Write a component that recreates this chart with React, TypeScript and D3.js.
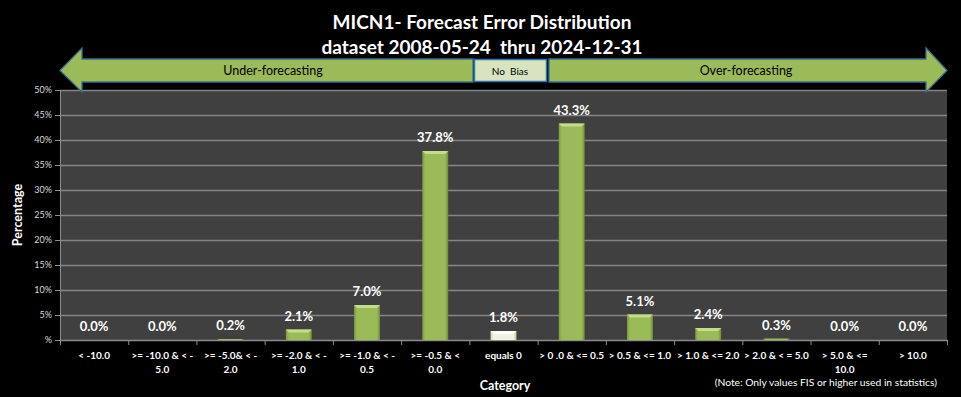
import {useEffect, useRef} from 'react';
import * as d3 from 'd3';

const categories = [
  '< -10.0',
  '>= -10.0 & < -|5.0',
  '>= -5.0& < -|2.0',
  '>= -2.0 & < -|1.0',
  '>= -1.0 & < -|0.5',
  '>= -0.5 & <|0.0',
  'equals 0',
  '> 0 .0 & <= 0.5',
  '> 0.5 & <= 1.0',
  '> 1.0 & <= 2.0',
  '> 2.0 & < = 5.0',
  '> 5.0 & <=|10.0',
  '> 10.0',
];
const values = [0.0, 0.0, 0.2, 2.1, 7.0, 37.8, 1.8, 43.3, 5.1, 2.4, 0.3, 0.0, 0.0];
const yTicks = [0, 5, 10, 15, 20, 25, 30, 35, 40, 45, 50];
const titleLines = ['MICN1- Forecast Error Distribution', 'dataset 2008-05-24  thru 2024-12-31'];

const W = 961;
const H = 397;
const FONT = 'Lato, "Open Sans", sans-serif';

const App = () => {
  const svgRef = useRef<SVGSVGElement>(null);

  useEffect(() => {
    const svg = d3.select(svgRef.current);
    svg.selectAll('*').remove();

    const margin = {top: 90, right: 14, bottom: 57, left: 60};
    const innerW = W - margin.left - margin.right;
    const innerH = H - margin.top - margin.bottom;

    const x = d3.scaleBand().domain(categories).range([0, innerW]).paddingInner(0.62).paddingOuter(0.31);
    const band = d3.scaleBand().domain(categories).range([0, innerW]);
    const y = d3.scaleLinear().domain([0, 50]).range([innerH, 0]);

    svg.append('rect').attr('width', W).attr('height', H).attr('fill', '#000');

    const defs = svg.append('defs');
    const g1 = defs.append('linearGradient').attr('id', 'barG').attr('x1', 0).attr('x2', 1);
    g1.append('stop').attr('offset', '0%').attr('stop-color', '#7e9a45');
    g1.append('stop').attr('offset', '12%').attr('stop-color', '#9bbb59');
    g1.append('stop').attr('offset', '88%').attr('stop-color', '#9bbb59');
    g1.append('stop').attr('offset', '100%').attr('stop-color', '#6f8a3b');
    const g2 = defs.append('linearGradient').attr('id', 'barW').attr('x1', 0).attr('x2', 1);
    g2.append('stop').attr('offset', '0%').attr('stop-color', '#c9d6b0');
    g2.append('stop').attr('offset', '12%').attr('stop-color', '#eef3e4');
    g2.append('stop').attr('offset', '88%').attr('stop-color', '#eef3e4');
    g2.append('stop').attr('offset', '100%').attr('stop-color', '#bac8a0');

    // Title
    svg.append('g')
      .selectAll('text')
      .data(titleLines)
      .join('text')
      .attr('x', 482)
      .attr('y', (d, i) => 29 + i * 25)
      .attr('text-anchor', 'middle')
      .attr('fill', '#fff')
      .style('white-space', 'pre')
      .style('font-family', FONT)
      .style('font-weight', 'bold')
      .style('font-size', '19px')
      .text(d => d);

    const plot = svg.append('g').attr('transform', `translate(${margin.left},${margin.top})`);

    plot.append('rect').attr('width', innerW).attr('height', innerH).attr('fill', '#404040');

    // Grid
    plot.append('g')
      .selectAll('line')
      .data(yTicks)
      .join('line')
      .attr('x1', 0)
      .attr('x2', innerW)
      .attr('y1', d => y(d) + 0.5)
      .attr('y2', d => y(d) + 0.5)
      .attr('stroke', '#858585')
      .attr('stroke-width', 1.3);

    // Y axis
    const yAxis = plot.append('g')
      .call(d3.axisLeft(y).tickValues(yTicks).tickSize(5).tickFormat(d => (d === 0 ? '%' : `${d}%`)));
    yAxis.select('.domain').attr('stroke', '#8c8c8c');
    yAxis.selectAll('.tick line').attr('stroke', '#8c8c8c');
    yAxis.selectAll('text').attr('fill', '#d9d9d9').style('font-family', FONT).style('font-size', '9px');

    // X axis
    const xAxis = plot.append('g').attr('transform', `translate(0,${innerH})`);
    xAxis.append('line').attr('x1', 0).attr('x2', innerW).attr('y1', 0.5).attr('y2', 0.5).attr('stroke', '#8c8c8c');
    xAxis.selectAll('.tk')
      .data(categories.concat(['end']))
      .join('line')
      .attr('class', 'tk')
      .attr('x1', (d, i) => (i < categories.length ? band(d)! : innerW) + 0.5)
      .attr('x2', (d, i) => (i < categories.length ? band(d)! : innerW) + 0.5)
      .attr('y1', 0)
      .attr('y2', 5)
      .attr('stroke', '#8c8c8c');
    xAxis.selectAll('.lbl')
      .data(categories)
      .join('text')
      .attr('class', 'lbl')
      .attr('x', d => band(d)! + band.bandwidth() / 2)
      .attr('y', 19)
      .attr('text-anchor', 'middle')
      .attr('fill', '#fff')
      .style('font-family', FONT)
      .style('font-weight', 'bold')
      .style('font-size', '10px')
      .each(function (d) {
        const parts = d.split('|');
        d3.select(this)
          .selectAll('tspan')
          .data(parts)
          .join('tspan')
          .attr('x', band(d)! + band.bandwidth() / 2)
          .attr('dy', (p, i) => (i === 0 ? 0 : 14))
          .text(p => p);
      });

    // Bars
    const bars = plot.append('g');
    bars.selectAll('rect')
      .data(values)
      .join('rect')
      .attr('x', (d, i) => x(categories[i])!)
      .attr('y', d => y(d))
      .attr('width', x.bandwidth())
      .attr('height', d => innerH - y(d))
      .attr('fill', (d, i) => (categories[i] === 'equals 0' ? 'url(#barW)' : 'url(#barG)'));
    // bevel highlight on top
    const tops = values.map((v, i) => ({v, c: categories[i]})).filter(d => d.v > 0.5);
    bars.selectAll('path')
      .data(tops)
      .join('path')
      .attr('d', d => {
        const x0 = x(d.c)!;
        const x1 = x0 + x.bandwidth();
        const t = y(d.v);
        return `M${x0},${t}L${x1},${t}L${x1 - 3},${t + 3}L${x0 + 3},${t + 3}Z`;
      })
      .attr('fill', d => (d.c === 'equals 0' ? '#ffffff' : '#c4dc8c'));

    // Value labels
    plot.append('g')
      .selectAll('text')
      .data(values)
      .join('text')
      .attr('x', (d, i) => band(categories[i])! + band.bandwidth() / 2)
      .attr('y', d => y(d) - 9)
      .attr('text-anchor', 'middle')
      .attr('fill', '#fff')
      .style('font-family', FONT)
      .style('font-weight', 'bold')
      .style('font-size', '13px')
      .text(d => `${d.toFixed(1)}%`);

    // Axis titles
    svg.append('text')
      .attr('transform', `translate(22,${margin.top + innerH / 2}) rotate(-90)`)
      .attr('text-anchor', 'middle')
      .attr('fill', '#fff')
      .style('font-family', FONT)
      .style('font-weight', 'bold')
      .style('font-size', '12.5px')
      .text('Percentage');
    svg.append('text')
      .attr('x', 505)
      .attr('y', 390)
      .attr('text-anchor', 'middle')
      .attr('fill', '#fff')
      .style('font-family', FONT)
      .style('font-weight', 'bold')
      .style('font-size', '12.5px')
      .text('Category');
    svg.append('text')
      .attr('x', 937)
      .attr('y', 386)
      .attr('text-anchor', 'end')
      .attr('fill', '#fff')
      .style('font-family', FONT)
      .style('font-size', '10.3px')
      .text('(Note: Only values FIS or higher used in statistics)');

    // Bias arrows
    const arrows = svg.append('g');
    const left = {x0: 60, x1: 473, head: 82, top: 59, bot: 82, htop: 48, hbot: 92};
    const right = {x0: 549, x1: 947, head: 926, top: 59, bot: 82, htop: 48, hbot: 92};
    const midY = (left.top + left.bot) / 2;
    arrows.append('path')
      .attr('d', `M${left.x0},${midY}L${left.head},${left.htop}L${left.head},${left.top}L${left.x1},${left.top}L${left.x1},${left.bot}L${left.head},${left.bot}L${left.head},${left.hbot}Z`)
      .attr('fill', '#9bbb59')
      .attr('stroke', '#3f6d8e')
      .attr('stroke-width', 1.3);
    arrows.append('path')
      .attr('d', `M${right.x1},${midY}L${right.head},${right.htop}L${right.head},${right.top}L${right.x0},${right.top}L${right.x0},${right.bot}L${right.head},${right.bot}L${right.head},${right.hbot}Z`)
      .attr('fill', '#9bbb59')
      .attr('stroke', '#3f6d8e')
      .attr('stroke-width', 1.3);
    arrows.append('rect')
      .attr('x', 474.5)
      .attr('y', 59.5)
      .attr('width', 72)
      .attr('height', 22)
      .attr('fill', '#d7e4bd')
      .attr('stroke', '#2e75b6')
      .attr('stroke-width', 1.5);
    const arrowText = [
      {t: 'Under-forecasting', x: 273, size: 12.5},
      {t: 'No  Bias', x: 510, size: 10},
      {t: 'Over-forecasting', x: 746, size: 12.5},
    ];
    arrows.selectAll('text')
      .data(arrowText)
      .join('text')
      .attr('x', d => d.x)
      .attr('y', midY + 4)
      .attr('text-anchor', 'middle')
      .attr('fill', '#000')
      .style('white-space', 'pre')
      .style('font-family', FONT)
      .style('font-size', d => `${d.size}px`)
      .text(d => d.t);
  }, []);

  return <svg ref={svgRef} width={W} height={H} style={{position: 'absolute', left: 0, top: 0}} />;
};

export default App;
